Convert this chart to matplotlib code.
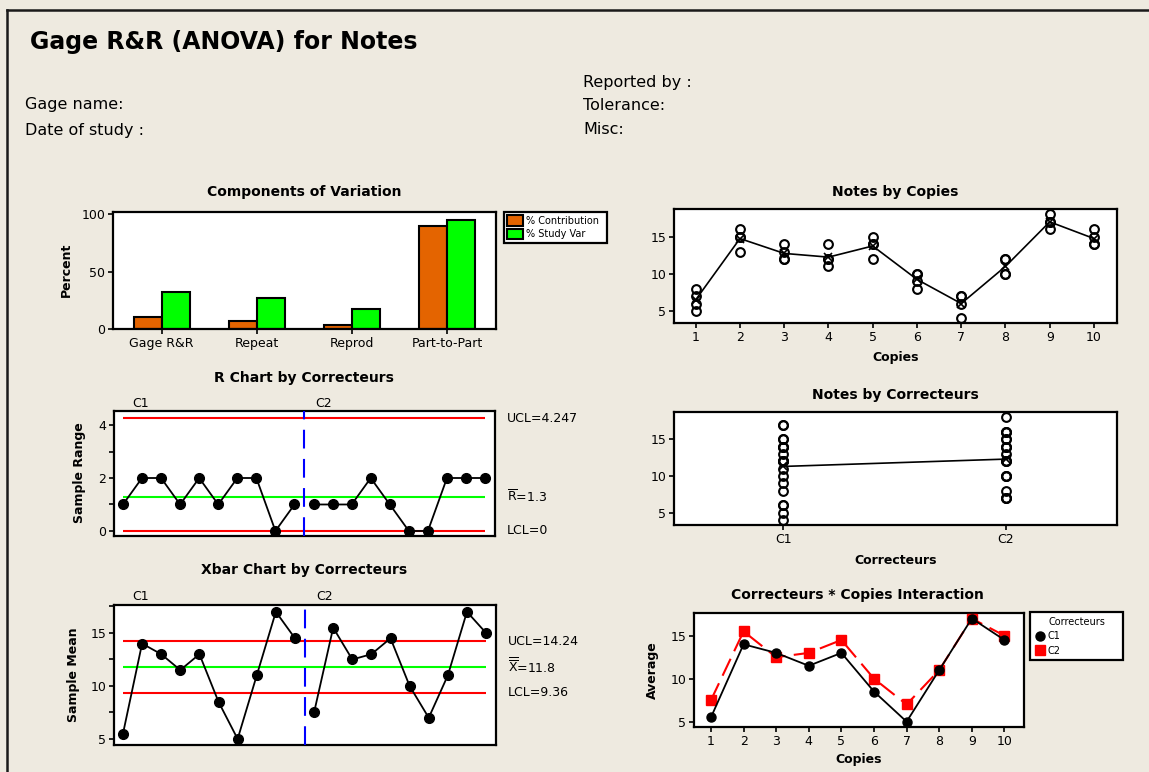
import matplotlib
matplotlib.use("Agg")
import matplotlib.pyplot as plt
import matplotlib.transforms as mtransforms
from matplotlib.lines import Line2D
from matplotlib.ticker import MultipleLocator
import numpy as np

W, H = 1149, 772
BG = "#eeeae0"
ORANGE = "#e46400"
GREEN = "#00ff00"

# --- data ---
copies = [1, 2, 3, 4, 5, 6, 7, 8, 9, 10]
operators = ["C1", "C2"]
c1_trial1 = [5, 13, 12, 11, 12, 8, 4, 10, 17, 14]
c1_trial2 = [6, 15, 14, 12, 14, 9, 6, 12, 17, 15]
c2_trial1 = [7, 15, 12, 12, 14, 10, 7, 10, 16, 14]
c2_trial2 = [8, 16, 13, 14, 15, 10, 7, 12, 18, 16]

components = ["Gage R&R", "Repeat", "Reprod", "Part-to-Part"]
pct_contribution = [10.2, 7.1, 3.1, 89.8]
pct_study_var = [32.0, 26.6, 17.7, 94.8]

r_ucl, r_bar, r_lcl = 4.247, 1.3, 0.0
x_ucl, x_dbar, x_lcl = 14.24, 11.8, 9.36

c1 = np.array([c1_trial1, c1_trial2], dtype=float)
c2 = np.array([c2_trial1, c2_trial2], dtype=float)
c1_mean, c2_mean = c1.mean(axis=0), c2.mean(axis=0)
c1_range = c1.max(axis=0) - c1.min(axis=0)
c2_range = c2.max(axis=0) - c2.min(axis=0)
sample_no = np.arange(1, 21)
all_by_copy = np.vstack([c1, c2])          # 4 x 10
copy_mean = all_by_copy.mean(axis=0)

plt.rcParams["font.family"] = ["DejaVu Sans"]
fig = plt.figure(figsize=(W / 100, H / 100), dpi=100, facecolor=BG)


def add_ax(x0, y0, x1, y1):
    ax = fig.add_axes([x0 / W, 1 - y1 / H, (x1 - x0) / W, (y1 - y0) / H])
    ax.set_facecolor("white")
    for s in ax.spines.values():
        s.set_linewidth(1.6)
        s.set_color("black")
    ax.tick_params(direction="out", length=3.5, width=1.2, labelsize=9, pad=2)
    ax.tick_params(which="minor", direction="out", length=3.5, width=1.2)
    return ax


def ftext(x, y, s, **kw):
    fig.text(x / W, 1 - y / H, s, **kw)


def fbox(x0, y0, x1, y1):
    # legend anchor box in figure fraction (x, bottom, w, h)
    return (x0 / W, 1 - y1 / H, (x1 - x0) / W, (y1 - y0) / H)


# frame
fig.add_artist(Line2D([7 / W, 7 / W], [0, 1 - 10 / H], color="#1a1a1a", lw=1.8))
fig.add_artist(Line2D([7 / W, 1], [1 - 10 / H, 1 - 10 / H], color="#1a1a1a", lw=1.8))

# header
ftext(30, 42, "Gage R&R (ANOVA) for Notes", fontsize=17, fontweight="bold", va="center")
ftext(25, 105, "Gage name:", fontsize=11.5, va="center")
ftext(25, 130, "Date of study :", fontsize=11.5, va="center")
ftext(583, 82, "Reported by :", fontsize=11.5, va="center")
ftext(583, 105, "Tolerance:", fontsize=11.5, va="center")
ftext(583, 130, "Misc:", fontsize=11.5, va="center")

# --- Components of Variation ---
ax = add_ax(113, 212, 496, 329)
xc = np.arange(len(components))
bw = 0.294
ax.bar(xc - bw / 2, pct_contribution, bw, color=ORANGE, edgecolor="black", lw=1.5,
       label="% Contribution")
ax.bar(xc + bw / 2, pct_study_var, bw, color=GREEN, edgecolor="black", lw=1.5,
       label="% Study Var")
ax.set_xlim(-0.51, 3.51)
ax.set_ylim(0, 102)
ax.set_yticks([0, 50, 100])
ax.set_xticks(xc)
ax.set_xticklabels(components)
ftext(304, 192, "Components of Variation", fontsize=10, fontweight="bold", ha="center", va="center")
ftext(66, 270, "Percent", fontsize=9, fontweight="bold", rotation=90, ha="center", va="center")
lg = ax.legend(loc="upper left", bbox_to_anchor=fbox(504, 212, 607, 247),
               bbox_transform=fig.transFigure, mode="expand", fontsize=7, frameon=True,
               fancybox=False, edgecolor="black", borderpad=0.35, labelspacing=0.3,
               handlelength=1.6, handleheight=1.25, handletextpad=0.3, borderaxespad=0)
lg.get_frame().set_linewidth(1.6)
lg.get_frame().set_alpha(1)

# --- R chart ---
ax = add_ax(114, 411, 495, 536)
ax.hlines([r_ucl, r_lcl], 1, 20, color="red", lw=1.5, zorder=2)
ax.hlines(r_bar, 1, 20, color=GREEN, lw=1.5, zorder=2)
ax.plot(sample_no[:10], c1_range, color="black", lw=1.3, marker="o", ms=7, zorder=4)
ax.plot(sample_no[10:], c2_range, color="black", lw=1.3, marker="o", ms=7, zorder=4)
ax.axvline(10.5, color="blue", lw=1.5, dashes=(9, 5), zorder=3)
ax.set_xlim(0.53, 20.52)
ax.set_ylim(-0.19, 4.53)
ax.yaxis.set_major_locator(MultipleLocator(2))
ax.yaxis.set_minor_locator(MultipleLocator(1))
ax.set_xticks([])
tr = mtransforms.blended_transform_factory(ax.transAxes, ax.transData)
ax.text(1.031, r_ucl, "UCL=4.247", transform=tr, fontsize=9, va="center")
ax.text(1.031, r_bar, r"$\overline{\mathrm{R}}$=1.3", transform=tr, fontsize=9, va="center")
ax.text(1.031, r_lcl, "LCL=0", transform=tr, fontsize=9, va="center")
tr2 = mtransforms.blended_transform_factory(ax.transData, ax.transAxes)
ax.text(1.5, 1.06, operators[0], transform=tr2, fontsize=9, va="center")
ax.text(11.1, 1.06, operators[1], transform=tr2, fontsize=9, va="center")
ftext(304, 378, "R Chart by Correcteurs", fontsize=10, fontweight="bold", ha="center", va="center")
ftext(80, 473, "Sample Range", fontsize=9, fontweight="bold", rotation=90, ha="center", va="center")

# --- Xbar chart ---
ax = add_ax(114, 605, 496, 745)
ax.hlines([x_ucl, x_lcl], 1, 20, color="red", lw=1.5, zorder=2)
ax.hlines(x_dbar, 1, 20, color=GREEN, lw=1.5, zorder=2)
ax.plot(sample_no[:10], c1_mean, color="black", lw=1.3, marker="o", ms=7, zorder=4)
ax.plot(sample_no[10:], c2_mean, color="black", lw=1.3, marker="o", ms=7, zorder=4)
ax.axvline(10.5, color="blue", lw=1.5, dashes=(9, 5), zorder=3)
ax.set_xlim(0.53, 20.52)
ax.set_ylim(4.43, 17.64)
ax.yaxis.set_major_locator(MultipleLocator(5))
ax.yaxis.set_minor_locator(MultipleLocator(2.5))
ax.set_xticks([])
tr = mtransforms.blended_transform_factory(ax.transAxes, ax.transData)
ax.text(1.031, x_ucl, "UCL=14.24", transform=tr, fontsize=9, va="center")
ax.text(1.031, x_dbar, r"$\overline{\overline{\mathrm{X}}}$=11.8", transform=tr, fontsize=9, va="center")
ax.text(1.031, x_lcl, "LCL=9.36", transform=tr, fontsize=9, va="center")
tr2 = mtransforms.blended_transform_factory(ax.transData, ax.transAxes)
ax.text(1.5, 1.06, operators[0], transform=tr2, fontsize=9, va="center")
ax.text(11.1, 1.06, operators[1], transform=tr2, fontsize=9, va="center")
ftext(304, 570, "Xbar Chart by Correcteurs", fontsize=10, fontweight="bold", ha="center", va="center")
ftext(74, 675, "Sample Mean", fontsize=9, fontweight="bold", rotation=90, ha="center", va="center")

# --- Notes by Copies ---
ax = add_ax(674, 209, 1117, 323)
for row in all_by_copy:
    ax.plot(copies, row, ls="none", marker="o", ms=6.3, mfc="none", mec="black", mew=1.5, zorder=3)
ax.plot(copies, copy_mean, color="black", lw=1.2, marker="x", ms=6, mew=1.2, zorder=4)
ax.set_xlim(0.51, 10.52)
ax.set_ylim(3.38, 18.73)
ax.set_xticks(copies)
ax.set_yticks([5, 10, 15])
ax.set_xlabel("Copies", fontsize=9, fontweight="bold", labelpad=5)
ftext(895, 192, "Notes by Copies", fontsize=10, fontweight="bold", ha="center", va="center")

# --- Notes by Correcteurs ---
ax = add_ax(674, 412, 1117, 525)
for row in c1:
    ax.plot(np.ones(len(row)), row, ls="none", marker="o", ms=6.3, mfc="none", mec="black", mew=1.5, zorder=3)
for row in c2:
    ax.plot(np.full(len(row), 2), row, ls="none", marker="o", ms=6.3, mfc="none", mec="black", mew=1.5, zorder=3)
ax.plot([1, 2], [c1.mean(), c2.mean()], color="black", lw=1.2, marker="x", ms=6, mew=1.2, zorder=4)
ax.set_xlim(0.51, 2.5)
ax.set_ylim(3.32, 18.72)
ax.set_xticks([1, 2])
ax.set_xticklabels(operators)
ax.set_yticks([5, 10, 15])
ax.set_xlabel("Correcteurs", fontsize=9, fontweight="bold", labelpad=6)
ftext(895, 395, "Notes by Correcteurs", fontsize=10, fontweight="bold", ha="center", va="center")

# --- Interaction ---
ax = add_ax(694, 613, 1024, 727)
ax.plot(copies, c1_mean, color="black", lw=1.3, marker="o", ms=6.5, label="C1", zorder=4)
ax.plot(copies, c2_mean, color="red", lw=1.5, dashes=(9, 4), marker="s", ms=7, label="C2", zorder=3)
ax.set_xlim(0.48, 10.6)
ax.set_ylim(4.38, 17.64)
ax.set_xticks(copies)
ax.set_yticks([5, 10, 15])
ax.set_xlabel("Copies", fontsize=9, fontweight="bold", labelpad=4)
ftext(857, 595, "Correcteurs * Copies Interaction", fontsize=10, fontweight="bold", ha="center", va="center")
ftext(652, 670, "Average", fontsize=9, fontweight="bold", rotation=90, ha="center", va="center")
handles = [Line2D([], [], ls="none", marker="o", color="black", ms=6.5),
           Line2D([], [], ls="none", marker="s", color="red", ms=7)]
lg = ax.legend(handles, operators, title="Correcteurs", title_fontsize=7, fontsize=7,
               loc="upper left", bbox_to_anchor=fbox(1030, 612, 1123, 662),
               bbox_transform=fig.transFigure, mode="expand", frameon=True, fancybox=False,
               edgecolor="black", borderpad=0.5, labelspacing=0.45, handlelength=1.0,
               handletextpad=0.3, borderaxespad=0)
lg.get_frame().set_linewidth(1.6)
lg.get_frame().set_alpha(1)

fig.savefig("out.png", dpi=100, facecolor=BG)
